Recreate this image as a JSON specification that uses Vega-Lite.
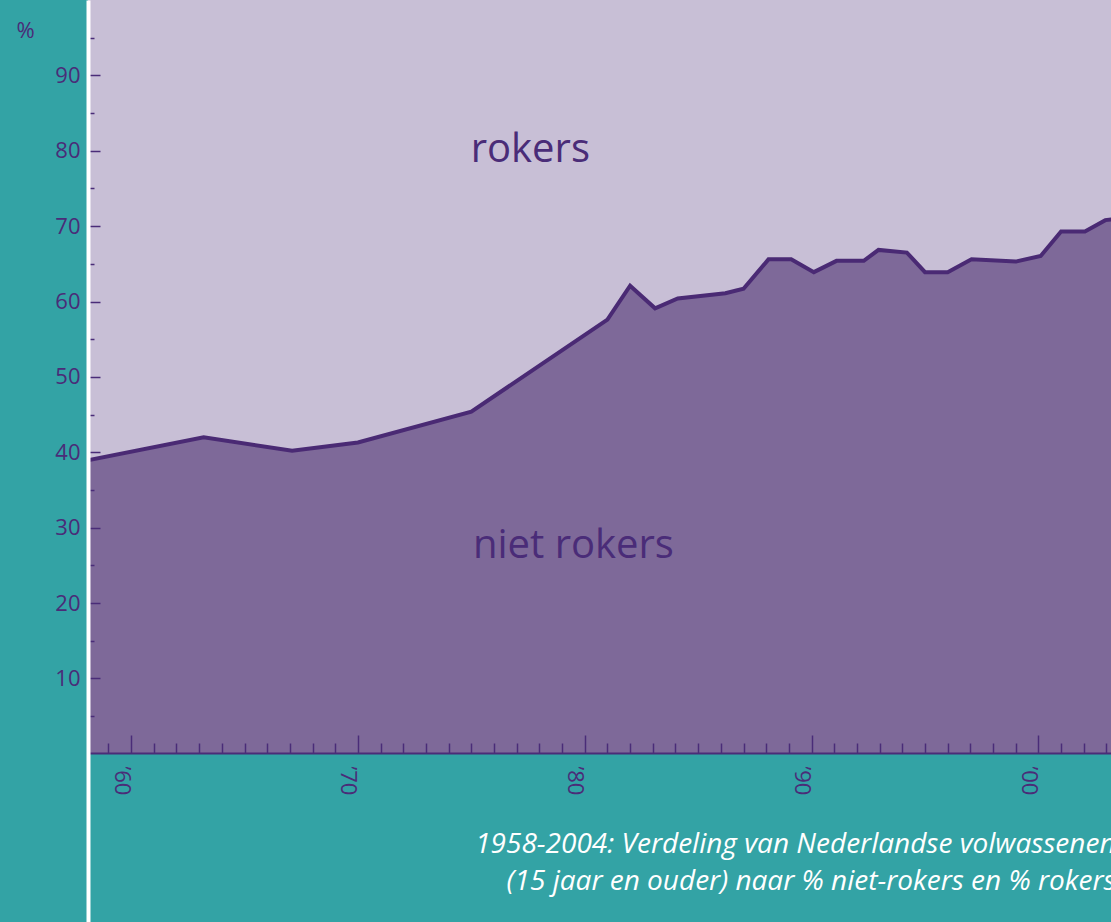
{
  "$schema": "https://vega.github.io/schema/vega-lite/v6.json",
  "autosize": {"type": "none"},
  "padding": {"left": 88, "top": 0, "right": 0, "bottom": 0},
  "width": 1023,
  "height": 922,
  "background": "#33a3a5",
  "config": {"view": {"stroke": null}, "font": "Open Sans"},
  "datasets": {
    "share": [
      {"jaar": 1958, "nietrokers": 38.9},
      {"jaar": 1963.2, "nietrokers": 42.0},
      {"jaar": 1967.1, "nietrokers": 40.2},
      {"jaar": 1970, "nietrokers": 41.3},
      {"jaar": 1975, "nietrokers": 45.4},
      {"jaar": 1981, "nietrokers": 57.6},
      {"jaar": 1982, "nietrokers": 62.1},
      {"jaar": 1983.1, "nietrokers": 59.1},
      {"jaar": 1984.1, "nietrokers": 60.4},
      {"jaar": 1986.2, "nietrokers": 61.1},
      {"jaar": 1987, "nietrokers": 61.7},
      {"jaar": 1988.1, "nietrokers": 65.6},
      {"jaar": 1989.1, "nietrokers": 65.6},
      {"jaar": 1990.1, "nietrokers": 63.9},
      {"jaar": 1991.1, "nietrokers": 65.4},
      {"jaar": 1992.3, "nietrokers": 65.4},
      {"jaar": 1992.95, "nietrokers": 66.85},
      {"jaar": 1994.2, "nietrokers": 66.5},
      {"jaar": 1995, "nietrokers": 63.9},
      {"jaar": 1996, "nietrokers": 63.9},
      {"jaar": 1997.05, "nietrokers": 65.6},
      {"jaar": 1999, "nietrokers": 65.3},
      {"jaar": 2000.1, "nietrokers": 66.05},
      {"jaar": 2001, "nietrokers": 69.3},
      {"jaar": 2002.05, "nietrokers": 69.3},
      {"jaar": 2002.95, "nietrokers": 70.8},
      {"jaar": 2004, "nietrokers": 71.2}
    ]
  },
  "layer": [
    {
      "data": {"name": "share"},
      "mark": {"type": "area", "color": "#c8bfd6", "clip": true},
      "encoding": {
        "x": {
          "field": "jaar", "type": "quantitative",
          "scale": {"domain": [1958.1, 2003.2], "nice": false, "zero": false},
          "axis": {
            "orient": "bottom",
            "offset": -169,
            "zindex": 1,
            "title": null,
            "grid": false,
            "tickCount": 200,
            "values": [1959,1960,1961,1962,1963,1964,1965,1966,1967,1968,1969,1970,1971,1972,1973,1974,1975,1976,1977,1978,1979,1980,1981,1982,1983,1984,1985,1986,1987,1988,1989,1990,1991,1992,1993,1994,1995,1996,1997,1998,1999,2000,2001,2002,2003],
            "domainColor": "#4a2c78",
            "domainWidth": 2,
            "tickColor": "#4a2c78",
            "tickWidth": 1.5,
            "tickSize": {"condition": {"test": "datum.value % 10 === 0", "value": -18}, "value": -10},
            "labelOverlap": false,
            "labelBound": false,
            "labelFlush": false,
            "labelPadding": 31,
            "labelAngle": 90,
            "labelAlign": "left",
            "labelBaseline": "top",
            "labelFontSize": 22,
            "labelColor": "#4a2c78",
            "labelExpr": "datum.value % 10 === 0 ? '\u2019' + slice(format(datum.value, 'd'), 2) : ''"
          }
        },
        "y": {
          "field": "nietrokers", "type": "quantitative",
          "scale": {"domain": [-22.3, 100], "nice": false, "zero": false},
          "axis": {
            "orient": "left",
            "zindex": 1,
            "grid": false,
            "tickCount": 200,
            "values": [5,10,15,20,25,30,35,40,45,50,55,60,65,70,75,80,85,90,95],
            "domainColor": "#ffffff",
            "domainWidth": 4,
            "tickColor": "#4a2c78",
            "tickWidth": 1.5,
            "tickSize": {"condition": {"test": "datum.value % 10 === 0", "value": -12}, "value": -6},
            "labelOverlap": false,
            "labelPadding": 20,
            "labelFontSize": 22,
            "labelColor": "#4a2c78",
            "labelExpr": "datum.value % 10 === 0 ? format(datum.value, 'd') : ''",
            "title": "%",
            "titleAngle": 0,
            "titleX": -63,
            "titleY": 30,
            "titleAlign": "center",
            "titleBaseline": "middle",
            "titleFontSize": 22,
            "titleFontWeight": "normal",
            "titleColor": "#4a2c78"
          }
        },
        "y2": {"datum": 100}
      }
    },
    {
      "data": {"name": "share"},
      "mark": {"type": "area", "color": "#7e6999", "clip": true},
      "encoding": {
        "x": {"field": "jaar", "type": "quantitative"},
        "y": {"field": "nietrokers", "type": "quantitative"},
        "y2": {"datum": 0}
      }
    },
    {
      "data": {"name": "share"},
      "mark": {"type": "line", "color": "#4a2a74", "strokeWidth": 4, "clip": true, "strokeJoin": "miter"},
      "encoding": {
        "x": {"field": "jaar", "type": "quantitative"},
        "y": {"field": "nietrokers", "type": "quantitative"}
      }
    },
    {
      "data": {"values": [{"label": "rokers"}]},
      "mark": {"type": "text", "fontSize": 40, "color": "#4a2c78", "align": "center", "baseline": "alphabetic"},
      "encoding": {
        "x": {"datum": 1977.6, "type": "quantitative"},
        "y": {"datum": 78.5, "type": "quantitative"},
        "text": {"field": "label"}
      }
    },
    {
      "data": {"values": [{"label": "niet rokers"}]},
      "mark": {"type": "text", "fontSize": 40, "color": "#4a2c78", "align": "center", "baseline": "alphabetic"},
      "encoding": {
        "x": {"datum": 1979.5, "type": "quantitative"},
        "y": {"datum": 26.0, "type": "quantitative"},
        "text": {"field": "label"}
      }
    },
    {
      "data": {"values": [{"bijschrift": "1958-2004"}]},
      "mark": {"type": "text", "fontSize": 28, "fontStyle": "italic", "color": "#ffffff", "align": "right", "baseline": "alphabetic", "lineHeight": 37},
      "encoding": {
        "x": {"datum": 2003.4, "type": "quantitative"},
        "y": {"datum": -13.15, "type": "quantitative"},
        "text": {"value": ["1958-2004: Verdeling van Nederlandse volwassenen", "(15 jaar en ouder) naar % niet-rokers en % rokers"]}
      }
    }
  ]
}
